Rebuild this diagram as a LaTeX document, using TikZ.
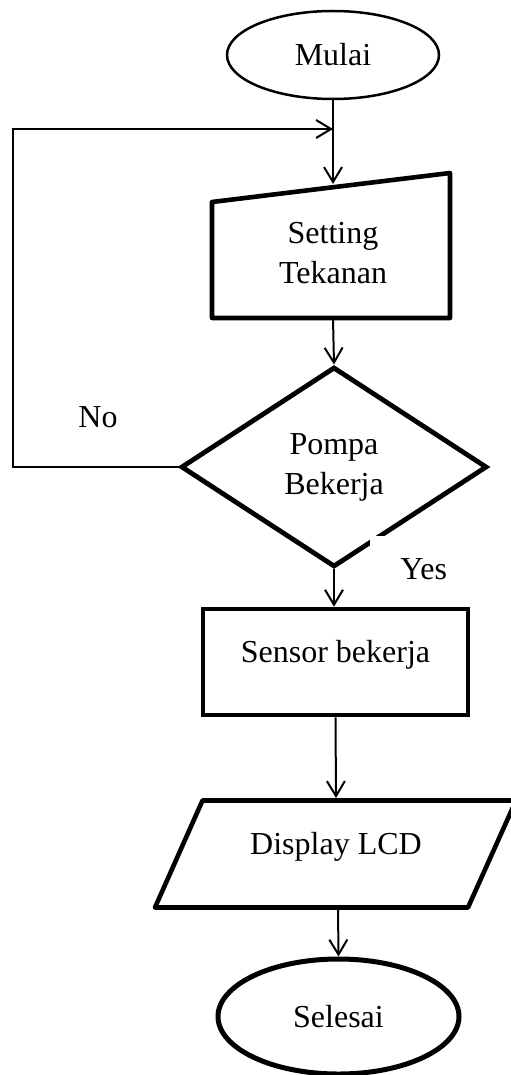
\documentclass[tikz,border=0pt]{standalone}
\usepackage{fontspec}
\setmainfont{Liberation Serif}
\usetikzlibrary{arrows.meta,positioning,shapes.geometric}
\tikzset{
  terminal/.style={ellipse, draw=black, line width=#1, inner sep=0pt},
  terminal/.default=1.25pt,
  proc/.style={rectangle, draw=black, line width=2.3pt, minimum width=132.5pt,
               minimum height=53pt, text depth=10.5pt},
  decide/.style={diamond, draw=black, line width=2.4pt, aspect=1.53, align=center,
                 minimum width=153pt, minimum height=100pt, inner sep=1pt},
  thickline/.style={line width=2.3pt, line join=round},
  arr/.style={-{Straight Barb[length=7.5pt, width=9pt]}, line width=1pt},
  lbl/.style={inner sep=0pt},
}
\begin{document}
\begin{tikzpicture}[x=0.5pt, y=-0.5pt, font=\fontsize{16}{20}\selectfont]
\useasboundingbox (0,0) rectangle (510,1075);
% start
\node[terminal, minimum width=106pt, minimum height=44pt] (mulai) at (333,55) {Mulai};
% manual input
\node[align=center] (setting) at (333,253) {Setting\\Tekanan};
\draw[thickline] (212,202) -- (450,173) -- (450,318) -- (212,318) -- cycle;
\coordinate (settop) at (333,184);
\coordinate (setbot) at (333,318);
% decision
\node[decide] (pompa) at (334,467) {Pompa\\Bekerja};
% process
\node[proc] (sensor) at (335.5,662) {Sensor bekerja};
% output
\node[text depth=10.5pt] (display) at (336,854) {Display LCD};
\draw[thickline] (155,907.5) -- (468,907.5) -- (516,800.5) -- (202.5,800.5) -- cycle;
\coordinate (distop) at (336,798);
\coordinate (disbot) at (338,907.5);
% end
\node[terminal=2.5pt, minimum width=120.5pt, minimum height=57.5pt] (selesai) at (338.5,1016.5) {Selesai};
% labels
\node[lbl] (no) at (98,417) {No};
\node[lbl, fill=white, anchor=north west, inner xsep=15pt, inner ysep=11pt] (yes) at (370,536) {Yes};
% connectors
\coordinate (loop) at (13,129);
\coordinate (join) at (333,129);
\draw[arr] (mulai) -- (settop);
\draw[arr] (pompa.west) -| (loop) -- (join);
\draw[arr] (setbot) -- (pompa.north);
\draw[arr] (pompa.south) -- (pompa.south |- sensor.north);
\draw[arr] (sensor.south) -- (distop);
\draw[arr] (disbot) -- (selesai.north);
\end{tikzpicture}
\end{document}
